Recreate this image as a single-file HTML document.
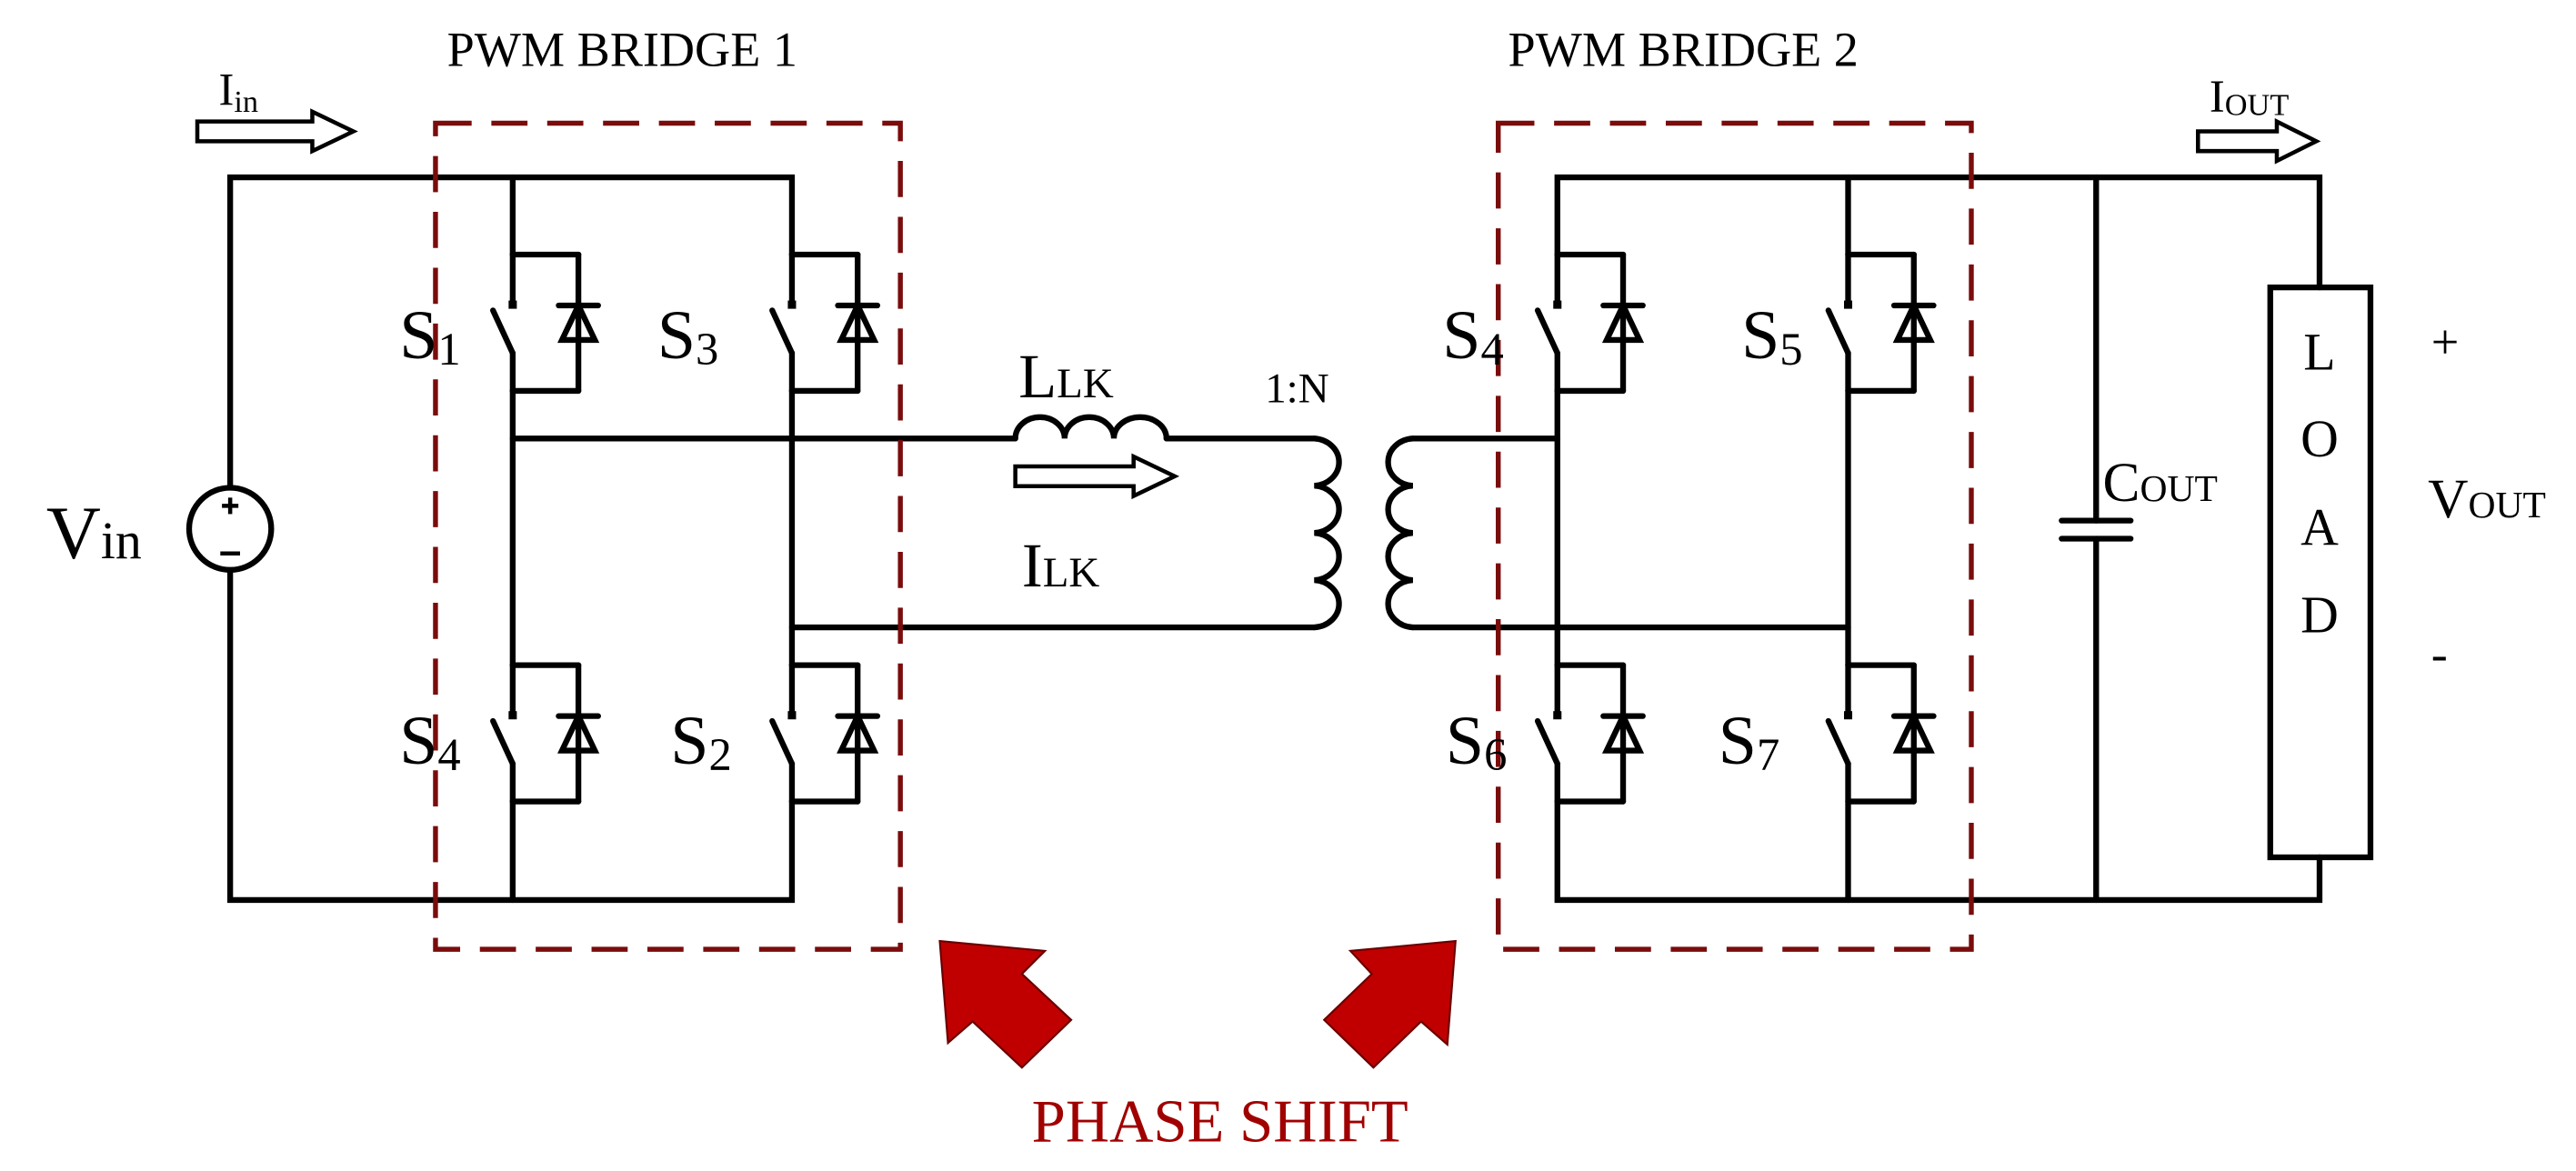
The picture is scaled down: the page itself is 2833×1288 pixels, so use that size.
<!DOCTYPE html>
<html><head><style>html,body{margin:0;padding:0;background:#fff}svg{display:block}</style></head>
<body>
<svg width="2833" height="1288" viewBox="0 0 1568 713" xmlns="http://www.w3.org/2000/svg" font-family="'Liberation Serif', serif">
<defs>
<g id="sw">
  <line x1="0" y1="0" x2="40" y2="0"/>
  <line x1="40" y1="0" x2="40" y2="83"/>
  <line x1="40" y1="83" x2="0" y2="83"/>
  <line x1="0" y1="0" x2="0" y2="31"/>
  <rect x="-2.5" y="28" width="5" height="5" fill="#000" stroke="none"/>
  <line x1="-12" y1="34" x2="0" y2="60"/>
  <line x1="0" y1="60" x2="0" y2="83"/>
  <polygon points="40,31 30,52 50,52" fill="none"/>
  <line x1="28" y1="31" x2="52" y2="31"/>
</g>
</defs>
<g stroke="#000" stroke-width="3.5" fill="none" stroke-linecap="round">
  <polyline points="140,296 140,108 482,108 482,155"/>
  <polyline points="140,348 140,548 482,548 482,488"/>
  <circle cx="140" cy="322" r="25"/>
  <line x1="312" y1="108" x2="312" y2="155"/>
  <line x1="312" y1="238" x2="312" y2="405"/>
  <line x1="312" y1="488" x2="312" y2="548"/>
  <line x1="482" y1="238" x2="482" y2="405"/>
  <use href="#sw" x="312" y="155"/>
  <use href="#sw" x="482" y="155"/>
  <use href="#sw" x="312" y="405"/>
  <use href="#sw" x="482" y="405"/>
  <line x1="312" y1="267" x2="618" y2="267"/>
  <path d="M618,267 a15,13 0 0 1 30,0 a15,13 0 0 1 30,0 a16,13 0 0 1 32,0"/>
  <line x1="710" y1="267" x2="800" y2="267"/>
  <line x1="482" y1="382" x2="800" y2="382"/>
  <path d="M800,267 a16,14.4 0 0 1 0,28.75 a16,14.4 0 0 1 0,28.75 a16,14.4 0 0 1 0,28.75 a16,14.4 0 0 1 0,28.75"/>
  <path d="M860,267 a16,14.4 0 0 0 0,28.75 a16,14.4 0 0 0 0,28.75 a16,14.4 0 0 0 0,28.75 a16,14.4 0 0 0 0,28.75"/>
  <line x1="860" y1="267" x2="948" y2="267"/>
  <line x1="860" y1="382" x2="1125" y2="382"/>
  <polyline points="948,155 948,108 1412,108 1412,175"/>
  <polyline points="948,488 948,548 1412,548 1412,522"/>
  <line x1="948" y1="238" x2="948" y2="405"/>
  <line x1="1125" y1="108" x2="1125" y2="155"/>
  <line x1="1125" y1="238" x2="1125" y2="405"/>
  <line x1="1125" y1="488" x2="1125" y2="548"/>
  <use href="#sw" x="948" y="155"/>
  <use href="#sw" x="1125" y="155"/>
  <use href="#sw" x="948" y="405"/>
  <use href="#sw" x="1125" y="405"/>
  <line x1="1276" y1="108" x2="1276" y2="317"/>
  <line x1="1276" y1="328" x2="1276" y2="548"/>
  <line x1="1255" y1="317" x2="1297" y2="317"/>
  <line x1="1255" y1="328" x2="1297" y2="328"/>
  <rect x="1382" y="175" width="61" height="347"/>
  <polygon points="120,74 190,74 190,68 215,80 190,92 190,86 120,86" stroke-width="2.5"/>
  <polygon points="1338,80 1386,80 1386,74 1410,86 1386,98 1386,92 1338,92" stroke-width="2.5"/>
  <polygon points="618,284 690,284 690,278 715,290 690,302 690,296 618,296" stroke-width="2.5"/>
</g>
<g stroke="#000" stroke-width="2.5">
  <line x1="140" y1="303" x2="140" y2="313"/><line x1="135" y1="308" x2="145" y2="308"/>
  <line x1="134" y1="337" x2="146" y2="337"/>
</g>
<g stroke="#7a0c0c" stroke-width="3" fill="none" stroke-dasharray="22,12">
  <rect x="265" y="75" width="283" height="503"/>
  <rect x="912" y="75" width="288" height="503"/>
</g>
<g fill="#c00000" stroke="#6a0000" stroke-width="1.2">
  <polygon points="572,573 636,579 622,593 652,621 622,650 592,622 577,635"/>
  <polygon points="886,573 881,636 865,622 836,650 806,621 835,593 822,579"/>
</g>
<g fill="#000">
  <text x="272" y="40" font-size="30">PWM BRIDGE 1</text>
  <text x="918" y="40" font-size="30">PWM BRIDGE 2</text>
  <text x="133" y="64" font-size="28">I<tspan font-size="19" dy="4">in</tspan></text>
  <text x="1345" y="68" font-size="28">I<tspan font-size="19" dy="2">OUT</tspan></text>
  <text x="243" y="218" font-size="42">S<tspan font-size="28" dy="4">1</tspan></text>
  <text x="400" y="218" font-size="42">S<tspan font-size="28" dy="4">3</tspan></text>
  <text x="243" y="465" font-size="42">S<tspan font-size="28" dy="4">4</tspan></text>
  <text x="408" y="465" font-size="42">S<tspan font-size="28" dy="4">2</tspan></text>
  <text x="878" y="218" font-size="42">S<tspan font-size="28" dy="4">4</tspan></text>
  <text x="1060" y="218" font-size="42">S<tspan font-size="28" dy="4">5</tspan></text>
  <text x="880" y="465" font-size="42">S<tspan font-size="28" dy="4">6</tspan></text>
  <text x="1046" y="465" font-size="42">S<tspan font-size="28" dy="4">7</tspan></text>
  <text x="620" y="242" font-size="38">L<tspan font-size="26">LK</tspan></text>
  <text x="622" y="357" font-size="38">I<tspan font-size="26">LK</tspan></text>
  <text x="770" y="245" font-size="26">1:N</text>
  <text x="28" y="340" font-size="46">V<tspan font-size="32">in</tspan></text>
  <text x="1280" y="305" font-size="34">C<tspan font-size="23">OUT</tspan></text>
  <text x="1478" y="315" font-size="34">V<tspan font-size="23">OUT</tspan></text>
  <text x="1480" y="218" font-size="30">+</text>
  <text x="1480" y="408" font-size="30">-</text>
  <g font-size="32" text-anchor="middle">
    <text x="1412" y="225">L</text>
    <text x="1412" y="278">O</text>
    <text x="1412" y="332">A</text>
    <text x="1412" y="385">D</text>
  </g>
  <text x="628" y="695" font-size="37" fill="#a00000">PHASE SHIFT</text>
</g>
</svg>
</body></html>
